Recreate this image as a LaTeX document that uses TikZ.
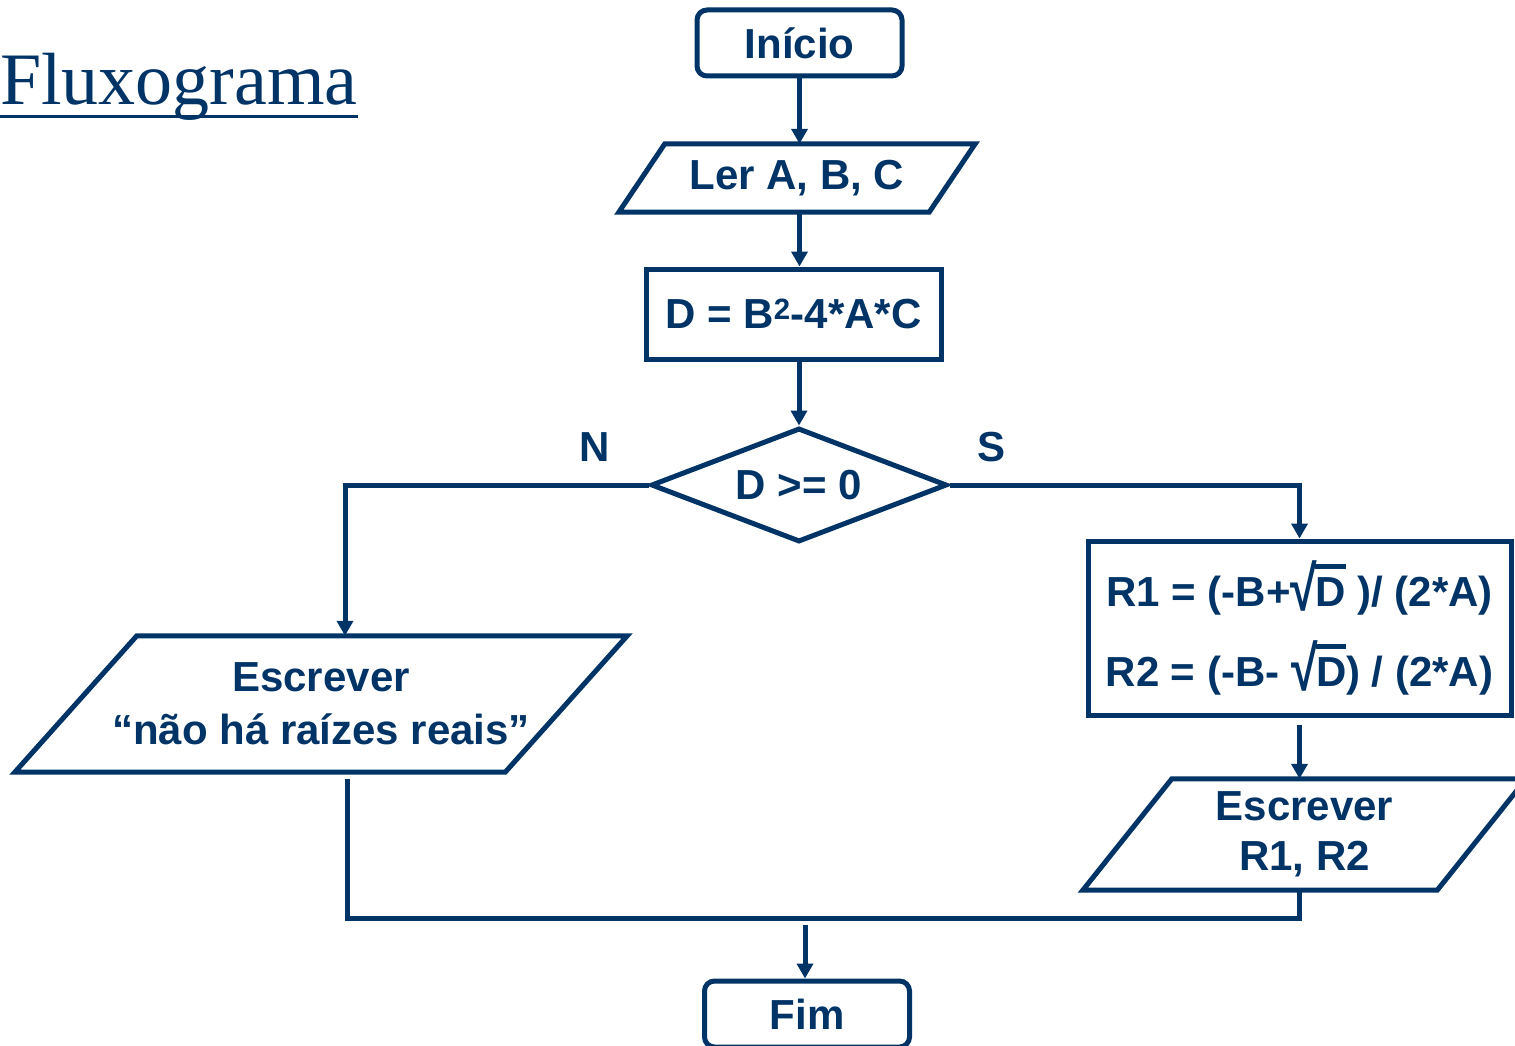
\documentclass[tikz,border=0pt]{standalone}
\usepackage{fontspec}
\setmainfont{Liberation Sans}
\newfontfamily\titlefont{Liberation Serif}
\usetikzlibrary{shapes.geometric,arrows.meta}
\definecolor{azul}{RGB}{0,51,102}
\newcommand{\raiz}[1]{\setbox0\hbox{#1}\mbox{\raisebox{-4pt}{\scalebox{1.15}[1.5]{√}}\kern-0.04em\rlap{\rule[0.9em]{\wd0}{0.11em}}\box0}}

\begin{document}
\begin{tikzpicture}[x=1pt,y=-1pt,
	every node/.style={text=azul,font=\fontsize{42}{48}\selectfont\bfseries},
	caixa/.style={draw=azul,line width=5pt,inner sep=0pt,align=center},
	terminal/.style={caixa,rounded corners=10pt,minimum width=205pt,minimum height=66pt},
	dado/.style={inner sep=0pt,align=center},
	seta/.style={draw=azul,line width=5pt,-{Triangle[length=15pt,width=16pt]}},
	linha/.style={draw=azul,line width=5pt}]
	\useasboundingbox (0,0) rectangle (1515,1046);

	\node[font=\titlefont\fontsize{74}{80}\selectfont,anchor=base west,inner sep=0pt] at (0,105) (titulo) {Fluxograma};
	\draw[linha,line width=3pt] ([yshift=-12pt]titulo.base west) -- ([yshift=-12pt]titulo.base east);

	\node[terminal] at (799.5,43) (ini) {Início};
	\node[dado,minimum width=310pt,minimum height=68pt] at (797,178) (ler) {Ler A, B, C};
	\node[caixa,minimum width=295pt,minimum height=90pt] at (793.5,314) (calc) {D = B\textsuperscript{2}-4*A*C};
	\node[caixa,diamond,aspect=2.6,minimum width=296pt,minimum height=114pt] at (799,485) (dec) {D >= 0};
	\node at (595,447) (rotN) {N};
	\node at (991,447) (rotS) {S};

	\node[dado,minimum width=490pt,minimum height=136pt] at (321,704) (nao) {Escrever\\[5pt]“não há raízes reais”};
	\node[caixa,minimum width=423pt,minimum height=174pt] at (1299.5,628) (res) {R1 = (-B+\raiz{D} )/ (2*A)\\[24pt]R2 = (-B- \raiz{D}) / (2*A)};
	\node[dado,minimum width=354pt,minimum height=111pt] at (1304.5,834.5) (esc) {Escrever\\[2pt]R1, R2};
	\node[terminal] at (807,1014) (fim) {Fim};
	\coordinate (junta) at (805,918);

	\draw[linha] ([xshift=-23pt]ler.south west) -- ([xshift=23pt]ler.north west) -- ([xshift=23pt]ler.north east) -- ([xshift=-23pt]ler.south east) -- cycle;
	\draw[linha] ([xshift=-61pt]nao.south west) -- ([xshift=61pt]nao.north west) -- ([xshift=61pt]nao.north east) -- ([xshift=-61pt]nao.south east) -- cycle;
	\draw[linha] ([xshift=-44.5pt]esc.south west) -- ([xshift=44.5pt]esc.north west) -- ([xshift=44.5pt]esc.north east) -- ([xshift=-44.5pt]esc.south east) -- cycle;

	\draw[seta] (ini.south) -- (ini.south |- ler.north);
	\draw[seta] (ler.south -| ini.south) -- (calc.north -| ini.south);
	\draw[seta] (calc.south -| dec.north) -- (dec.north);
	\draw[seta] (dec.west) -| ([xshift=24pt]nao.north);
	\draw[seta] (dec.east) -| (res.north);
	\draw[seta,shorten <=7pt] (res.south) -- (res.south |- esc.north);
	\draw[linha,shorten <=7pt] ([xshift=26pt]nao.south) |- (junta) -| (res.south |- esc.south);
	\draw[seta,shorten <=7pt] (junta) -- (junta |- fim.north);
\end{tikzpicture}
\end{document}
